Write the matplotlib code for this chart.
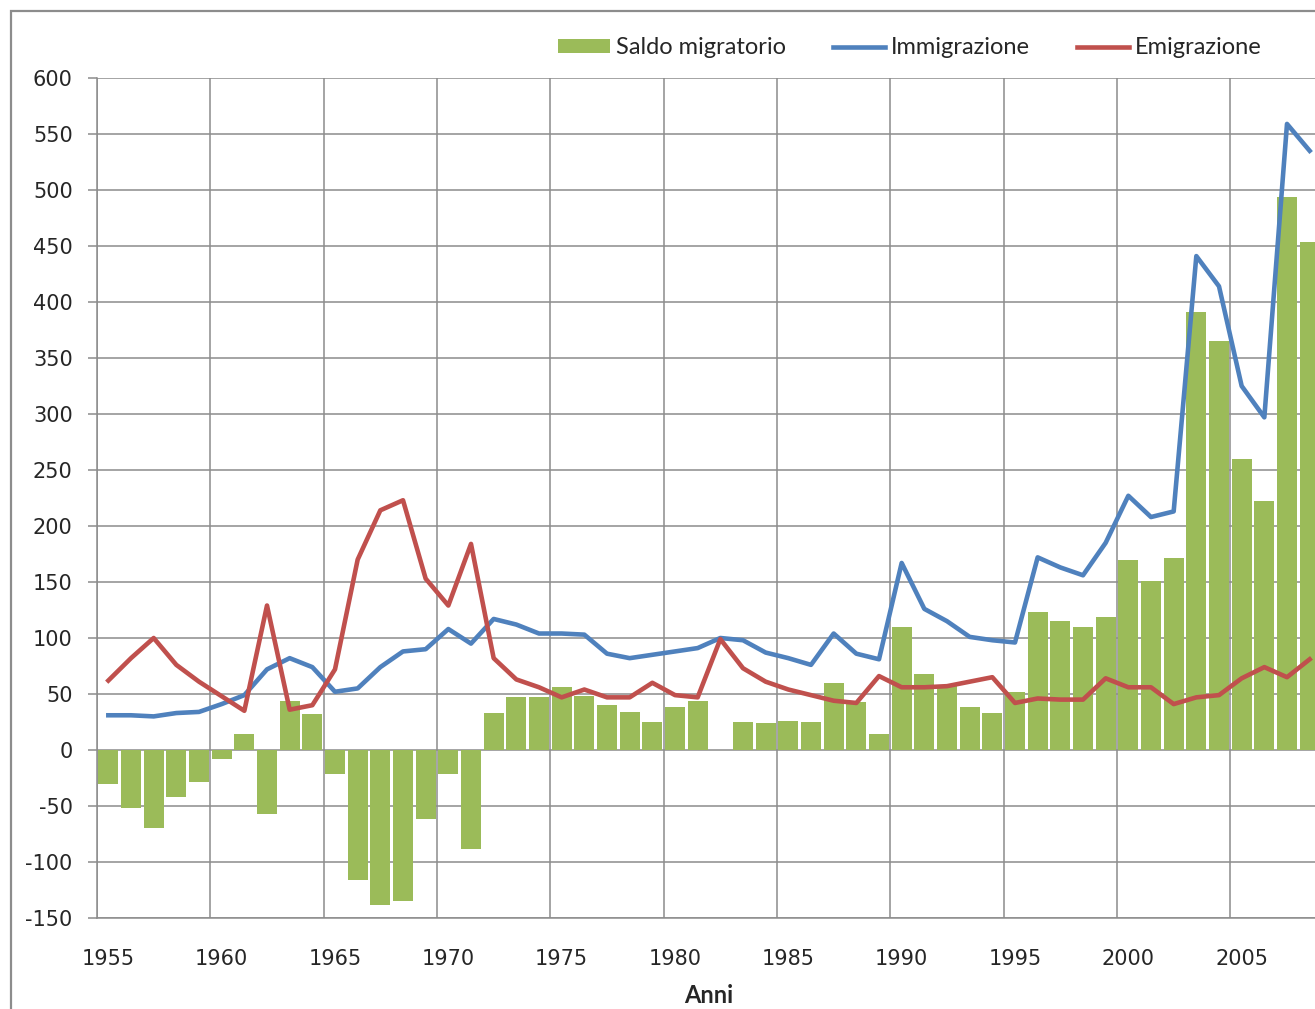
import matplotlib
matplotlib.use('Agg')
import matplotlib.pyplot as plt
from matplotlib.patches import Rectangle
import numpy as np

plt.rcParams['axes.unicode_minus'] = False

# Years shown on the category axis
anni = list(range(1955, 2009))

# Saldo migratorio (bars)
saldo = [-30, -52, -70, -42, -29, -8, 14, -57, 44, 32,
         -21, -116, -138, -135, -62, -21, -88, 33, 47, 47,
         56, 48, 40, 34, 25, 38, 44, 0, 25, 24,
         26, 25, 60, 43, 14, 110, 68, 57, 38, 33,
         52, 123, 115, 110, 119, 170, 151, 171, 391, 365,
         260, 222, 494, 454]

# Immigrazione (blue line)
immigrazione = [31, 31, 30, 33, 34, 41, 49, 72, 82, 74,
                52, 55, 74, 88, 90, 108, 95, 117, 112, 104,
                104, 103, 86, 82, 85, 88, 91, 100, 98, 87,
                82, 76, 104, 86, 81, 167, 126, 115, 101, 98,
                96, 172, 163, 156, 185, 227, 208, 213, 441, 414,
                325, 297, 559, 535]

# Emigrazione (red line)
emigrazione = [62, 82, 100, 76, 61, 48, 35, 129, 36, 40,
               72, 170, 214, 223, 153, 129, 184, 82, 63, 56,
               47, 54, 47, 47, 60, 49, 47, 99, 73, 61,
               54, 49, 44, 42, 66, 56, 56, 57, 61, 65,
               42, 46, 45, 45, 64, 56, 56, 41, 47, 49,
               64, 74, 65, 81]

etichette_x = list(range(1955, 2006, 5))
etichette_y = list(range(-150, 601, 50))

verde = '#9BBB59'
blu = '#4F81BD'
rosso = '#C0504D'
griglia = '#8C8C8C'
testo = '#262626'

fig = plt.figure(figsize=(13.15, 10.09), dpi=100)
fig.patch.set_facecolor('white')

# the plot area runs a bit past the right edge of the picture, like the original
ax = fig.add_axes([97 / 1315, 1 - 918 / 1009, 1224 / 1315, 840 / 1009])

barre = ax.bar(anni, saldo, width=0.88, color=verde, label='Saldo migratorio', zorder=2)
l_imm, = ax.plot(anni, immigrazione, color=blu, lw=3.3, label='Immigrazione', zorder=3)
l_emi, = ax.plot(anni, emigrazione, color=rosso, lw=3.3, label='Emigrazione', zorder=4)

ax.set_xlim(anni[0] - 0.5, anni[-1] + 0.5)
ax.set_ylim(-150, 600)

# labels in the middle of the category, gridlines on the category borders
ax.set_xticks(etichette_x)
ax.set_xticklabels([str(a) for a in etichette_x])
ax.set_xticks([a - 0.5 for a in etichette_x], minor=True)
ax.set_yticks(etichette_y)

ax.grid(axis='x', which='minor', color=griglia, lw=1.1, zorder=0)
ax.grid(axis='y', which='major', color=griglia, lw=1.1, zorder=0)
ax.set_axisbelow(True)

ax.tick_params(axis='x', which='both', length=0, pad=22, labelsize=15, labelcolor=testo)
ax.tick_params(axis='y', which='major', length=6.5, width=1.1, color=griglia,
               pad=11, labelsize=15, labelcolor=testo)

for s in ['top', 'right']:
    ax.spines[s].set_visible(False)
for s in ['left', 'bottom']:
    ax.spines[s].set_color(griglia)
    ax.spines[s].set_linewidth(1.1)

ax.set_xlabel('Anni', fontsize=17, fontweight='bold', family='Lato', color=testo, labelpad=11)

# legend across the top
fig.legend([barre, l_imm, l_emi], ['Saldo migratorio', 'Immigrazione', 'Emigrazione'],
           loc='center', bbox_to_anchor=(910 / 1315, 1 - 48 / 1009), ncol=3,
           frameon=False, prop={'family': 'Lato', 'size': 17}, labelcolor=testo,
           handlelength=2.2, handleheight=0.55, handletextpad=0.25, columnspacing=2.0)

# outer chart frame (left and top edges only are visible)
fig.patches.append(Rectangle((11 / 1315, -0.2), 1.2, 1.2 - 11 / 1009,
                             transform=fig.transFigure, fill=False,
                             edgecolor='#8C8C8C', lw=1.6, zorder=10))

fig.savefig('out.png', dpi=100, facecolor='white')
